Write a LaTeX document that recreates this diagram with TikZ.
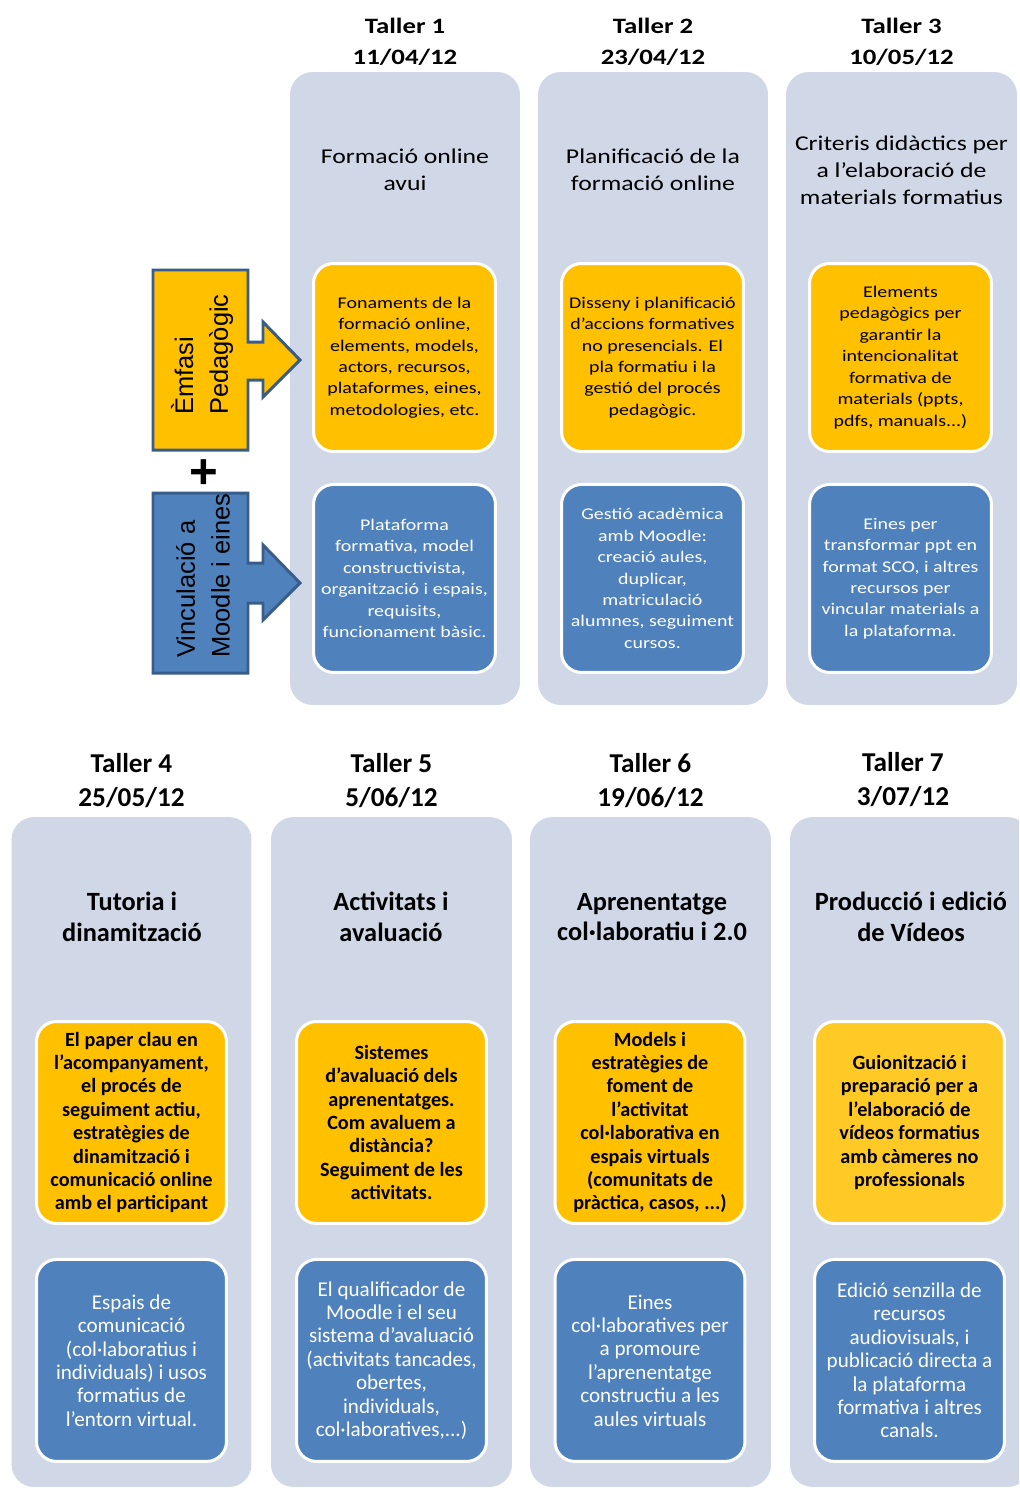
\documentclass[tikz,border=0pt]{standalone}
\usepackage{fontspec}
\setmainfont{Carlito}
\newfontfamily\amplafont[FakeStretch=1.22]{Carlito}
\newfontfamily\arialfont{Liberation Sans}
\usepackage{xcolor}
\usetikzlibrary{positioning}

\definecolor{panelgris}{HTML}{D0D8E8}
\definecolor{groc}{HTML}{FFC000}
\definecolor{grocclar}{HTML}{FFC926}
\definecolor{blau}{HTML}{4F81BD}
\definecolor{vora}{HTML}{385D8A}

\tikzset{
    panelsup/.style={rectangle, fill=panelgris, rounded corners=0.45cm, minimum width=4.6cm, minimum height=12.66cm},
    panelinf/.style={rectangle, fill=panelgris, rounded corners=0.45cm, minimum width=4.8cm, minimum height=13.4cm},
    capsup/.style={align=center, font=\amplafont\bfseries\fontsize{12.5}{17.6}\selectfont},
    capinf/.style={align=center, font=\bfseries\fontsize{15.5}{19.3}\selectfont},
    temasup/.style={align=center, font=\amplafont\fontsize{12}{15.3}\selectfont},
    temainf/.style={align=center, font=\bfseries\fontsize{15}{17.6}\selectfont},
    caixa/.style={rectangle, draw=white, line width=1.7pt, rounded corners=0.4cm, align=center, inner sep=0pt},
    grocsup/.style={caixa, fill=groc, minimum width=3.64cm, minimum height=3.76cm, font=\amplafont\fontsize{9.3}{12.2}\selectfont},
    blausup/.style={caixa, fill=blau, text=white, minimum width=3.64cm, minimum height=3.76cm, font=\amplafont\fontsize{9.3}{12.2}\selectfont},
    grocinf/.style={caixa, fill=groc, minimum width=3.8cm, minimum height=4.04cm, font=\bfseries\fontsize{11.5}{13.3}\selectfont},
    blauinf/.style={caixa, fill=blau, text=white, minimum width=3.8cm, minimum height=4.04cm, font=\fontsize{12}{13.3}\selectfont},
    fletxa/.style={draw=vora, line width=1.7pt, line join=miter},
    rotol/.style={rotate=90, anchor=west, align=left, inner sep=0pt, font=\arialfont\fontsize{14.5}{19.8}\selectfont}
}

\begin{document}
\begin{tikzpicture}[x=0.02cm, y=-0.02cm]
    \useasboundingbox (0,0) rectangle (1019,1488);
    \clip (0,0) rectangle (1019,1488);

    % tallers 1 a 3
    \node[panelsup] (t1) at (405,388.5) {};
    \node[panelsup] (t2) at (653,388.5) {};
    \node[panelsup, minimum width=4.62cm] (t3) at (901.5,388.5) {};
    \node[capsup, above=0pt of t1] (h1) {Taller 1\\11/04/12};
    \node[capsup, above=0pt of t2] (h2) {Taller 2\\23/04/12};
    \node[capsup, above=0pt of t3] (h3) {Taller 3\\10/05/12};
    \node[temasup] (s1) at (405,170) {Formació online\\avui};
    \node[temasup] (s2) at (653,170) {Planificació de la\\formació online};
    \node[temasup] (s3) at (901.5,170) {Criteris didàctics per\\a l’elaboració de\\materials formatius};
    \node[grocsup] (g1) at (404.5,357.5) {Fonaments de la\\formació online,\\elements, models,\\actors, recursos,\\plataformes, eines,\\metodologies, etc.};
    \node[grocsup] (g2) at (652.5,357.5) {Disseny i planificació\\d’accions formatives\\no presencials. El\\pla formatiu i la\\gestió del procés\\pedagògic.};
    \node[grocsup] (g3) at (900.5,357.5) {Elements\\pedagògics per\\garantir la\\intencionalitat\\formativa de\\materials (ppts,\\pdfs, manuals...)};
    \node[blausup, below=0.6cm of g1] (b1) {Plataforma\\formativa, model\\constructivista,\\organització i espais,\\requisits,\\funcionament bàsic.};
    \node[blausup, below=0.6cm of g2] (b2) {Gestió acadèmica\\amb Moodle:\\creació aules,\\duplicar,\\matriculació\\alumnes, seguiment\\cursos.};
    \node[blausup, below=0.6cm of g3] (b3) {Eines per\\transformar ppt en\\format SCO, i altres\\recursos per\\vincular materials a\\la plataforma.};

    % blocs de l'esquerra
    \draw[fletxa, fill=groc] (153,270) -- (248,270) -- (248,342) -- (263,342) -- (263,322) -- (300,360)
        -- (263,397) -- (263,380) -- (248,380) -- (248,450) -- (153,450) -- cycle;
    \draw[fletxa, fill=blau] (153,493) -- (248,493) -- (248,563) -- (263,563) -- (263,545) -- (300,583)
        -- (263,620) -- (263,603) -- (248,603) -- (248,673) -- (153,673) -- cycle;
    \node[rotol] (emfasi) at (202,415) {Èmfasi\\Pedagògic};
    \node[rotol] (moodle) at (203,658) {Vinculació a\\Moodle i eines};
    \node[font=\arialfont\bfseries\fontsize{28}{28}\selectfont, inner sep=0pt] (mes) at (204,474) {+};

    % tallers 4 a 7
    \node[panelinf] (t4) at (131.5,1152) {};
    \node[panelinf, minimum width=4.82cm] (t5) at (391.5,1152) {};
    \node[panelinf, minimum width=4.82cm] (t6) at (650.5,1152) {};
    \node[panelinf] (t7) at (910,1152) {};
    \node[capinf, above=1.5pt of t4] (h4) {Taller 4\\25/05/12};
    \node[capinf, above=1.5pt of t5] (h5) {Taller 5\\5/06/12};
    \node[capinf, above=1.5pt of t6] (h6) {Taller 6\\19/06/12};
    \node[capinf] (h7) at (903,780) {Taller 7\\3/07/12};
    \node[temainf] (s4) at (132,917) {Tutoria i\\dinamització};
    \node[temainf] (s5) at (391,917) {Activitats i\\avaluació};
    \node[temainf] (s6) at (652,917) {Aprenentatge\\col·laboratiu i 2.0};
    \node[temainf] (s7) at (911,917) {Producció i edició\\de Vídeos};
    \node[grocinf] (g4) at (131.5,1122.5) {El paper clau en\\l’acompanyament,\\el procés de\\seguiment actiu,\\estratègies de\\dinamització i\\comunicació online\\amb el participant};
    \node[grocinf] (g5) at (391.5,1122.5) {Sistemes\\d’avaluació dels\\aprenentatges.\\Com avaluem a\\distància?\\Seguiment de les\\activitats.};
    \node[grocinf] (g6) at (650,1122.5) {Models i\\estratègies de\\foment de\\l’activitat\\col·laborativa en\\espais virtuals\\(comunitats de\\pràctica, casos, ...)};
    \node[grocinf, fill=grocclar] (g7) at (909.5,1122.5) {Guionització i\\preparació per a\\l’elaboració de\\vídeos formatius\\amb càmeres no\\professionals};
    \node[blauinf, below=0.66cm of g4] (b4) {Espais de\\comunicació\\(col·laboratius i\\individuals) i usos\\formatius de\\l’entorn virtual.};
    \node[blauinf, below=0.66cm of g5] (b5) {El qualificador de\\Moodle i el seu\\sistema d’avaluació\\(activitats tancades,\\obertes,\\individuals,\\col·laboratives,...)};
    \node[blauinf, below=0.66cm of g6] (b6) {Eines\\col·laboratives per\\a promoure\\l’aprenentatge\\constructiu a les\\aules virtuals};
    \node[blauinf, below=0.66cm of g7] (b7) {Edició senzilla de\\recursos\\audiovisuals, i\\publicació directa a\\la plataforma\\formativa i altres\\canals.};
\end{tikzpicture}
\end{document}
